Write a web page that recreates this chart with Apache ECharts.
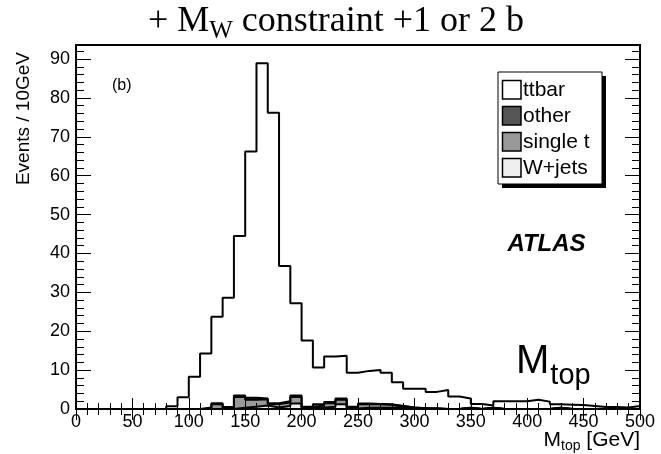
<!DOCTYPE html>
<html>
<head>
<meta charset="utf-8">
<script src="https://cdn.jsdelivr.net/npm/echarts@6/dist/echarts.min.js"></script>
<style>html,body{margin:0;padding:0;background:#fff}#c{width:661px;height:454px}</style>
</head>
<body>
<div id="c"></div>
<script>
// bin low edges (GeV), 10 GeV bins
const binLow = [0,10,20,30,40,50,60,70,80,90,100,110,120,130,140,150,160,170,180,190,200,210,220,230,240,250,260,270,280,290,300,310,320,330,340,350,360,370,380,390,400,410,420,430,440,450,460,470,480,490];
const binHigh = 500;
// per-bin contributions (events / 10 GeV)
const ttbar = [0,0,0,0,0,0,0,0,0.7,3.0,8.3,13.9,22.2,28.1,41.0,63.3,86.2,74.7,34.8,23.7,17.0,9.5,11.7,11.0,8.7,8.4,8.7,8.1,6.1,4.8,5.0,4.3,4.9,3.2,2.4,1.3,0.6,2.0,2.0,2.0,2.4,1.9,0.9,1.1,1.0,0.8,0.5,0.5,0.4,0.8];
const other = [0,0,0,0,0,0,0,0,0,0,0,0.4,0.3,0.2,0.4,0.5,0.2,0.2,0.3,0.4,0.2,0.3,0.3,0.3,0.2,0.2,0.1,0.1,0,0,0,0,0,0,0,0,0,0,0,0,0,0,0,0,0,0,0,0,0,0];
const singleT = [0,0,0,0,0,0,0,0,0,0,0,0,1.2,0.3,2.8,1.8,1.6,0.9,0.9,1.7,0.3,0.6,0.9,1.2,0.3,0.9,0.9,0.8,0.2,0.2,0,0,0,0,0,0,0,0,0,0,0,0,0,0,0,0,0,0,0,0];
const wjets = [0,0,0,0,0,0,0,0,0,0,0,0,0,0,0.3,0.6,0.9,0.4,0.8,1.4,0.1,0.3,0.6,1.2,0.1,0.3,0.3,0.3,0.6,0.2,0.2,0.1,0,0,0.3,0,0.3,0,0,0,0,0,0.3,0,0,0,0,0,0,0];
const yTicks = [0,10,20,30,40,50,60,70,80,90];
const xTicks = [0,50,100,150,200,250,300,350,400,450,500];

const legendNames = ['ttbar','other','single t','W+jets'];
const fills = {ttbar:'#ffffff', other:'#555555', 'single t':'#999999', 'W+jets':'#efefef'};

// stacked tops (W+jets at bottom, then single t, other, ttbar)
const sTop1 = wjets.slice();
const sTop2 = sTop1.map((v,i)=>v+singleT[i]);
const sTop3 = sTop2.map((v,i)=>v+other[i]);
const sTop4 = sTop3.map((v,i)=>v+ttbar[i]);
function steps(arr){
  const d = binLow.map((x,i)=>[x, +arr[i].toFixed(3)]);
  d.push([binHigh, +arr[arr.length-1].toFixed(3)]);
  return d;
}
function histSeries(name, arr){
  return {
    name, type:'line', step:'end', data: steps(arr), symbol:'none',
    xAxisIndex:0, yAxisIndex:0,
    lineStyle:{color:'#000', width:2},
    areaStyle:{color: fills[name], opacity:1},
    animation:false, z:2
  };
}

const SANS = '"Liberation Sans", Arial, Helvetica, sans-serif';
const SERIF = '"Liberation Serif", "Times New Roman", serif';
const G = {left:76, right:21, top:45, bottom:45};
const W = 661, H = 454;

const ctx = document.createElement('canvas').getContext('2d');
function tw(text, size, fam, extra){ ctx.font = (extra||'') + ' ' + size + 'px ' + fam; return ctx.measureText(text).width; }

const graphics = [];
// Title: + M_W constraint +1 or 2 b
(function(){
  const s1 = '+ M', s2 = 'W', s3 = ' constraint +1 or 2 b';
  const fs = 36, fsSub = 25, base = 33, cx = 336;
  const w1 = tw(s1, fs, SERIF), w2 = tw(s2, fsSub, SERIF), w3 = tw(s3, fs, SERIF);
  let x = cx - (w1+w2+w3)/2;
  graphics.push({type:'text', x:x, y:base - 0.33*fs, style:{text:s1, fontSize:fs, fontFamily:SERIF, fill:'#000', align:'left', verticalAlign:'middle'}});
  x += w1;
  graphics.push({type:'text', x:x, y:base + 7 - 0.33*fsSub, style:{text:s2, fontSize:fsSub, fontFamily:SERIF, fill:'#000', align:'left', verticalAlign:'middle'}});
  x += w2;
  graphics.push({type:'text', x:x, y:base - 0.33*fs, style:{text:s3, fontSize:fs, fontFamily:SERIF, fill:'#000', align:'left', verticalAlign:'middle'}});
})();
// Y axis title
graphics.push({type:'text', x:23.5, y:52, rotation:Math.PI/2, style:{text:'Events / 10GeV', fontSize:19, fontFamily:SANS, fill:'#000', align:'right', verticalAlign:'middle'}});
// X axis title: M_top [GeV], right aligned at frame right
(function(){
  const fs = 21, fsSub = 14, base = 447, right = 640;
  const a = 'M', b = 'top', c = ' [GeV]';
  const wa = tw(a, fs, SANS), wb = tw(b, fsSub, SANS), wc = tw(c, fs, SANS);
  let x = right - (wa+wb+wc);
  graphics.push({type:'text', x:x, y:base - 0.33*fs, style:{text:a, fontSize:fs, fontFamily:SANS, fill:'#000', align:'left', verticalAlign:'middle'}});
  x += wa;
  graphics.push({type:'text', x:x, y:base + 4 - 0.33*fsSub, style:{text:b, fontSize:fsSub, fontFamily:SANS, fill:'#000', align:'left', verticalAlign:'middle'}});
  x += wb;
  graphics.push({type:'text', x:x, y:base - 0.33*fs, style:{text:c, fontSize:fs, fontFamily:SANS, fill:'#000', align:'left', verticalAlign:'middle'}});
})();
// (b)
graphics.push({type:'text', x:112, y:86, style:{text:'(b)', fontSize:16, fontFamily:SANS, fill:'#000', align:'left', verticalAlign:'middle'}});
// ATLAS
graphics.push({type:'text', x:546.5, y:244, style:{text:'ATLAS', fontSize:24, fontFamily:SANS, fontWeight:'bold', fontStyle:'italic', fill:'#000', align:'center', verticalAlign:'middle'}});
// M_top label
graphics.push({type:'text', x:516, y:362, style:{text:'M', fontSize:40, fontFamily:SANS, fill:'#000', align:'left', verticalAlign:'middle'}});
graphics.push({type:'text', x:516 + tw('M',40,SANS) + 1, y:376, style:{text:'top', fontSize:29, fontFamily:SANS, fill:'#000', align:'left', verticalAlign:'middle'}});
// Legend box
(function(){
  const bx = 498, by = 72, bw = 104, bh = 112;
  graphics.push({type:'rect', shape:{x:bx+4, y:by+4, width:bw, height:bh}, style:{fill:'#000'}, z:10});
  graphics.push({type:'rect', shape:{x:bx, y:by, width:bw, height:bh}, style:{fill:'#fff', stroke:'#000', lineWidth:1}, z:11});
  legendNames.forEach((n,i)=>{
    const cy = 90 + i*26;
    graphics.push({type:'rect', shape:{x:502.5, y:cy-9.5, width:18.5, height:18.5}, style:{fill:fills[n], stroke:'#000', lineWidth:1.5}, z:12});
    graphics.push({type:'text', x:523, y:cy, style:{text:n, fontSize:21, fontFamily:SANS, fill:'#000', align:'left', verticalAlign:'middle'}, z:12});
  });
})();

const baseAxisCommon = {
  type:'value', splitLine:{show:false}, axisLine:{show:false}, z:5
};
const xMajor = (pos, showLabel) => Object.assign({}, baseAxisCommon, {
  position:pos, min:0, max:500, interval:50,
  axisTick:{show:true, inside:true, length:11, lineStyle:{color:'#000', width:1}},
  minorTick:{show:true, splitNumber:5, length:6, lineStyle:{color:'#000', width:1}},
  axisLabel:{show:showLabel, margin:4, fontSize:18, fontFamily:SANS, color:'#000',
    formatter:(v)=> xTicks.indexOf(v) >= 0 ? String(v) : ''}
});
const yAxisDef = (pos, interval, len, showLabel) => Object.assign({}, baseAxisCommon, {
  position:pos, min:0, max:93.6, interval:interval,
  axisTick:{show:true, inside:true, length:len, lineStyle:{color:'#000', width:1}},
  axisLabel:{show:showLabel, margin:6, fontSize:18, fontFamily:SANS, color:'#000', showMaxLabel:false,
    formatter:(v)=> yTicks.indexOf(v) >= 0 ? String(v) : ''}
});

const chart = echarts.init(document.getElementById('c'), null, {renderer:'canvas', width:W, height:H});
chart.setOption({
  animation:false,
  backgroundColor:'#fff',
  grid:{left:G.left, right:G.right, top:G.top, bottom:G.bottom, show:true, borderColor:'#000', borderWidth:2, backgroundColor:'transparent', z:6},
  xAxis:[xMajor('bottom', true), xMajor('top', false)],
  yAxis:[yAxisDef('left',10,15,true), yAxisDef('left',2,8,false), yAxisDef('right',10,15,false), yAxisDef('right',2,8,false)],
  series:[
    histSeries('ttbar', sTop4),
    histSeries('other', sTop3),
    histSeries('single t', sTop2),
    histSeries('W+jets', sTop1)
  ],
  graphic:graphics
});
</script>
</body>
</html>
